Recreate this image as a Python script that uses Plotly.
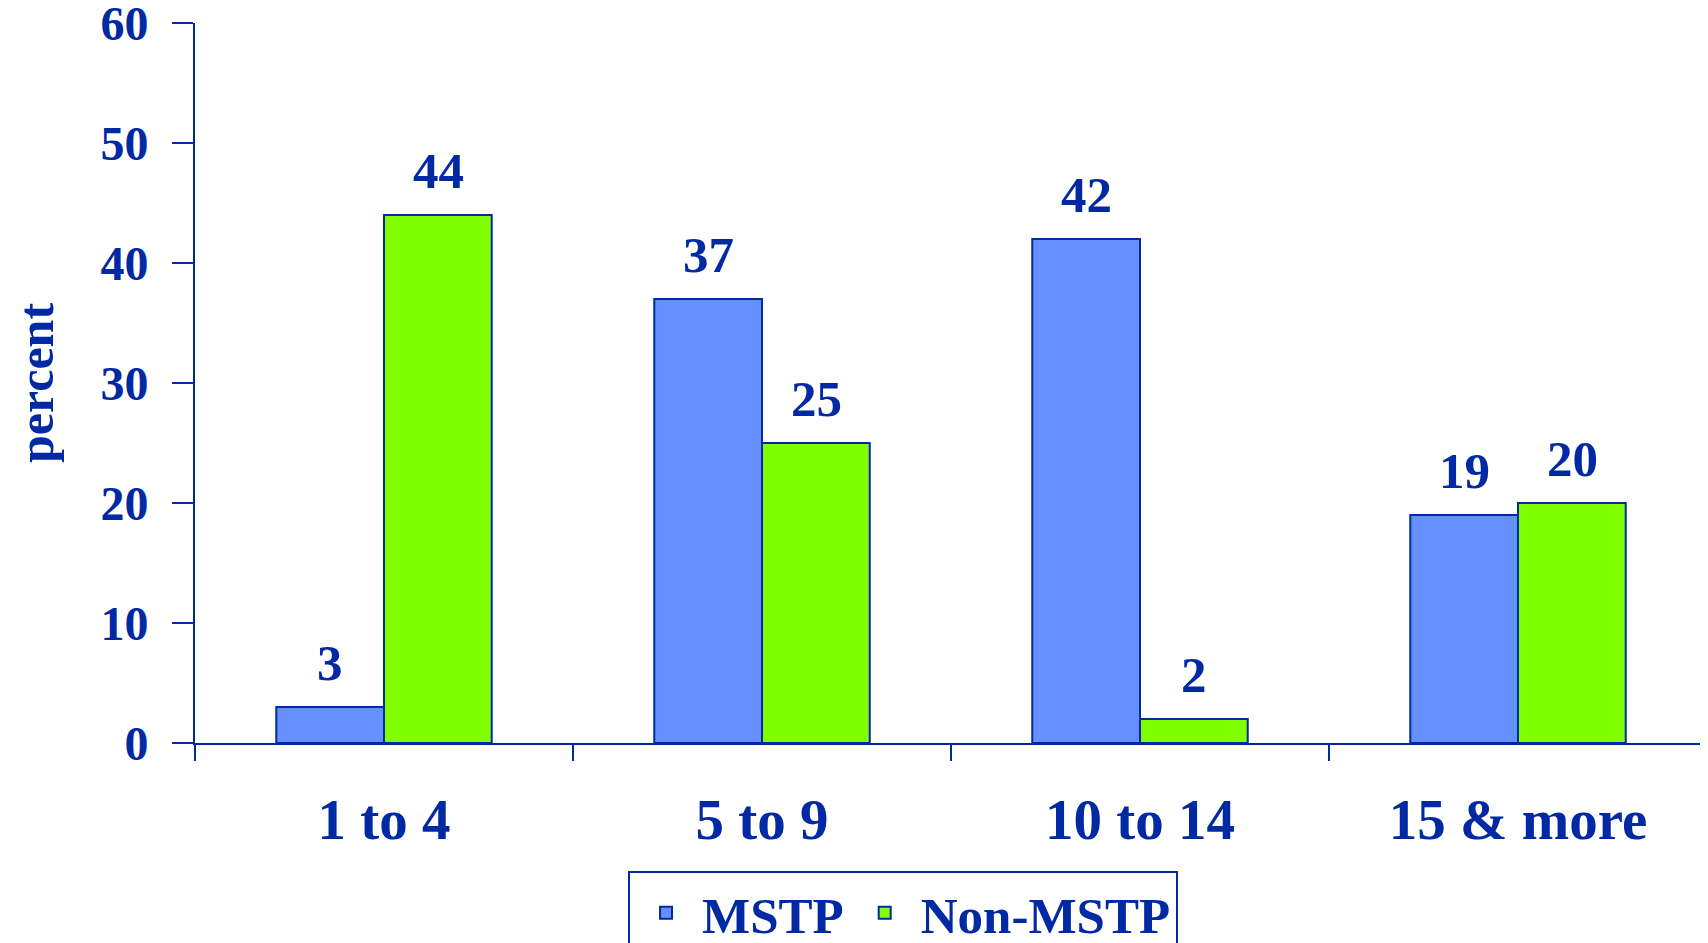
import plotly.graph_objects as go

categories = ["1 to 4", "5 to 9", "10 to 14", "15 & more"]
mstp = [3, 37, 42, 19]
non_mstp = [44, 25, 2, 20]
y_ticks = [0, 10, 20, 30, 40, 50, 60]

NAVY = "#0029A3"
FONT = "Liberation Serif"

fig = go.Figure()
fig.add_trace(go.Bar(name="<b>MSTP</b>", x=categories, y=mstp,
                     marker=dict(color="#6690FF", line=dict(color=NAVY, width=2))))
fig.add_trace(go.Bar(name="<b>Non-MSTP</b>", x=categories, y=non_mstp,
                     marker=dict(color="#80FF00", line=dict(color=NAVY, width=2))))

# value labels above bars
for i, c in enumerate(categories):
    for vals, shift in ((mstp, -54), (non_mstp, 54)):
        fig.add_annotation(x=c, y=vals[i], text=f"<b>{vals[i]}</b>", showarrow=False,
                           xshift=shift, yshift=14, yanchor="bottom",
                           font=dict(family=FONT, size=51, color=NAVY))

# page body has an 8px margin; the figure is sized so it fills the window
fig.update_layout(
    width=1700, height=935,
    margin=dict(l=187, r=1, t=15, b=200, autoexpand=False),
    paper_bgcolor="white", plot_bgcolor="white",
    barmode="group", bargap=0.43, bargroupgap=0,
    font=dict(family=FONT, color=NAVY),
    showlegend=True,
    legend=dict(orientation="h", x=0.2864, y=-0.178, xanchor="left", yanchor="top",
                bordercolor=NAVY, borderwidth=2, bgcolor="white",
                font=dict(family=FONT, size=51, color=NAVY),
                itemwidth=62, tracegroupgap=0),
    xaxis=dict(showline=True, linecolor=NAVY, linewidth=2, ticks="outside",
               tickson="boundaries", ticklen=16, tickwidth=2, tickcolor=NAVY,
               tickfont=dict(family=FONT, size=57, color=NAVY), automargin=False,
               ticklabelstandoff=26, showgrid=False,
               tickvals=categories, ticktext=[f"<b>{c}</b>" for c in categories]),
    yaxis=dict(range=[0, 60], showline=True, linecolor=NAVY, linewidth=2,
               ticks="outside", ticklen=21, tickwidth=2, tickcolor=NAVY,
               tickvals=y_ticks, ticktext=[f"<b>{v}</b>" for v in y_ticks],
               tickfont=dict(family=FONT, size=48, color=NAVY), automargin=False,
               ticklabelstandoff=14, ticklabeloverflow="allow",
               showgrid=False, zeroline=False,
               title=dict(text="<b>percent</b>", standoff=32,
                          font=dict(family=FONT, size=50, color=NAVY))),
)

fig.write_html("out.html")
